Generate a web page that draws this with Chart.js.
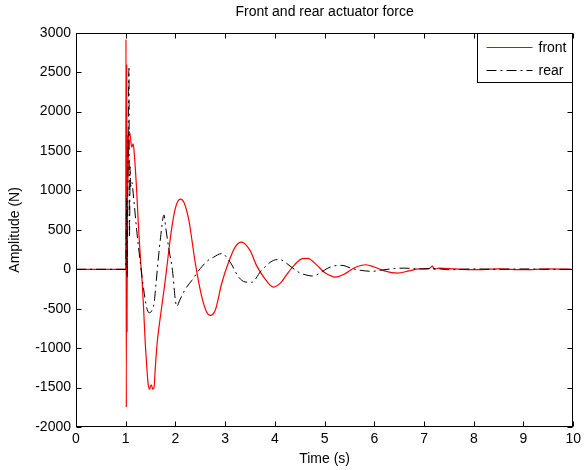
<!DOCTYPE html>
<html>
<head>
<meta charset="utf-8">
<script src="https://cdn.jsdelivr.net/npm/chart.js@4.4.1/dist/chart.umd.min.js"></script>
<style>
  html, body { margin: 0; padding: 0; background: #fff; }
</style>
</head>
<body>
<canvas id="forceChart" width="585" height="470"></canvas>
<script>
// values
const frontTime = [0, 1.0, 1.005, 1.012, 1.02, 1.028, 1.036, 1.045, 1.055, 1.065, 1.09, 1.12, 1.15, 1.18, 1.22, 1.26, 1.3, 1.33, 1.36, 1.39, 1.42, 1.45, 1.48, 1.5, 1.52, 1.54, 1.57, 1.59, 1.63, 1.67, 1.74, 1.8, 1.85, 1.92, 2.0, 2.1, 2.17, 2.27, 2.4, 2.53, 2.63, 2.7, 2.8, 2.93, 3.07, 3.2, 3.33, 3.5, 3.63, 3.8, 3.97, 4.13, 4.25, 4.4, 4.55, 4.66, 4.85, 5.0, 5.23, 5.4, 5.6, 5.83, 6.0, 6.2, 6.47, 6.7, 6.9, 7.1, 7.17, 7.2, 7.3, 7.6, 8.0, 8.5, 9.0, 9.5, 10];
const frontForce = [0, 0, 2920, -1750, 2600, -800, 1700, 1100, 1600, 1750, 1700, 1550, 1590, 1400, 1000, 500, 100, -150, -500, -900, -1200, -1450, -1520, -1480, -1470, -1520, -1500, -1300, -950, -730, -400, -115, 150, 500, 780, 890, 850, 620, 75, -350, -545, -585, -520, -180, 92, 282, 345, 240, 50, -120, -225, -162, -55, 60, 135, 140, 50, -40, -98, -60, 20, 58, 30, -20, -48, -20, 5, 10, 40, 0, 15, 5, -5, 5, -5, 5, 0];

const rearTime = [0, 1.0, 1.02, 1.03, 1.045, 1.065, 1.075, 1.09, 1.1, 1.12, 1.16, 1.22, 1.3, 1.36, 1.42, 1.47, 1.52, 1.57, 1.61, 1.64, 1.7, 1.77, 1.8, 1.87, 1.94, 2.0, 2.03, 2.08, 2.2, 2.33, 2.5, 2.65, 2.77, 2.93, 3.1, 3.27, 3.4, 3.53, 3.73, 3.97, 4.1, 4.2, 4.35, 4.5, 4.62, 4.75, 4.9, 5.05, 5.2, 5.35, 5.55, 5.75, 5.95, 6.15, 6.4, 6.6, 6.9, 7.2, 7.5, 8.0, 8.5, 9.0, 9.5, 10];
const rearForce = [0, 0, 900, -100, 1300, 2550, 400, 1300, 1050, 1110, 900, 500, 50, -250, -480, -550, -530, -430, -180, 30, 400, 690, 550, 250, -14, -400, -470, -400, -250, -140, 10, 110, 155, 200, 92, -98, -160, -165, -14, 113, 125, 92, 20, -45, -70, -85, -50, 10, 45, 50, 10, -15, -25, -10, 10, 15, 5, 10, -5, 5, 0, 5, 0, 0];

const xTicks = [0, 1, 2, 3, 4, 5, 6, 7, 8, 9, 10];
const yTicks = [-2000, -1500, -1000, -500, 0, 500, 1000, 1500, 2000, 2500, 3000];

const dashDot = [10, 4, 2, 4];
const fontFamily = '"Liberation Sans", Arial, sans-serif';

Chart.defaults.font.family = fontFamily;
Chart.defaults.font.size = 14;
Chart.defaults.color = "#000";

function toPoints(xs, ys) {
  return xs.map((t, i) => ({ x: t, y: ys[i] }));
}

// box round the axes with inward ticks on all four sides, like MATLAB
const matlabAxes = {
  id: "matlabAxes",
  afterDatasetsDraw(chart) {
    const { ctx, chartArea: a, scales } = chart;
    const l = Math.round(a.left) + 0.5, r = Math.round(a.right) - 0.5;
    const t = Math.round(a.top) + 0.5, b = Math.round(a.bottom) - 0.5;
    const len = 5;
    ctx.save();
    ctx.strokeStyle = "#000";
    ctx.lineWidth = 1;
    ctx.beginPath();
    scales.x.ticks.forEach(tk => {
      const px = Math.round(scales.x.getPixelForValue(tk.value)) + 0.5;
      ctx.moveTo(px, b); ctx.lineTo(px, b - len);
      ctx.moveTo(px, t); ctx.lineTo(px, t + len);
    });
    scales.y.ticks.forEach(tk => {
      const py = Math.round(scales.y.getPixelForValue(tk.value)) + 0.5;
      ctx.moveTo(l, py); ctx.lineTo(l + len, py);
      ctx.moveTo(r, py); ctx.lineTo(r - len, py);
    });
    ctx.stroke();
    ctx.strokeRect(l, t, r - l, b - t);
    ctx.restore();
  }
};

// legend box in the upper right corner of the axes
const boxLegend = {
  id: "boxLegend",
  afterDraw(chart) {
    const { ctx, chartArea: a } = chart;
    const w = 95, h = 49;
    const x0 = Math.round(a.right) - w - 0.5, y0 = Math.round(a.top) + 0.5;
    ctx.save();
    ctx.fillStyle = "#fff";
    ctx.fillRect(x0, y0, w, h);
    ctx.strokeStyle = "#000";
    ctx.lineWidth = 1;
    ctx.strokeRect(x0, y0, w, h);
    ctx.font = "14px " + fontFamily;
    ctx.textBaseline = "middle";
    chart.data.datasets.slice().sort((p, q) => p.legendIndex - q.legendIndex).forEach((ds, i) => {
      const ly = Math.round(y0 + 13 + i * 23.5) + 0.5;
      ctx.strokeStyle = ds.borderColor;
      ctx.lineWidth = ds.borderWidth;
      ctx.setLineDash(ds.borderDash || []);
      ctx.beginPath();
      ctx.moveTo(x0 + 9, ly);
      ctx.lineTo(x0 + 55, ly);
      ctx.stroke();
      ctx.setLineDash([]);
      ctx.fillStyle = "#000";
      ctx.fillText(ds.label, x0 + 61, ly + 1);
    });
    ctx.restore();
  }
};

new Chart(document.getElementById("forceChart"), {
  type: "line",
  data: {
    datasets: [
      {
        label: "rear",
        legendIndex: 1,
        data: toPoints(rearTime, rearForce),
        borderColor: "#000",
        borderWidth: 1,
        borderDash: dashDot,
        order: 0
      },
      {
        label: "front",
        legendIndex: 0,
        data: toPoints(frontTime, frontForce),
        borderColor: "#ff0000",
        borderWidth: 1.2,
        order: 1
      }
    ]
  },
  options: {
    responsive: false,
    animation: false,
    layout: { padding: { left: 0, right: 8, top: 0, bottom: 0 } },
    elements: {
      point: { radius: 0 },
      line: { tension: 0, cubicInterpolationMode: "monotone" }
    },
    plugins: {
      legend: { display: false },
      tooltip: { enabled: false },
      title: {
        display: true,
        text: "Front and rear actuator force",
        fullSize: false,
        font: { size: 14, weight: "normal" },
        padding: { top: 4, bottom: 12 }
      }
    },
    scales: {
      x: {
        type: "linear",
        min: 0,
        max: 10,
        afterBuildTicks: s => { s.ticks = xTicks.map(v => ({ value: v })); },
        afterFit: s => { s.height = 43; },
        grid: { display: false, drawTicks: false },
        border: { display: false },
        ticks: { padding: 4, maxRotation: 0, autoSkip: false, callback: v => String(v) },
        title: { display: true, text: "Time (s)", padding: { top: 3, bottom: 2 } }
      },
      y: {
        type: "linear",
        min: -2000,
        max: 3000,
        afterBuildTicks: s => { s.ticks = yTicks.map(v => ({ value: v })); },
        afterFit: s => { s.width = 76; },
        grid: { display: false, drawTicks: false },
        border: { display: false },
        ticks: { padding: 5, autoSkip: false, callback: v => String(v) },
        title: { display: true, text: "Amplitude (N)", padding: { top: 7, bottom: 0 } }
      }
    }
  },
  plugins: [matlabAxes, boxLegend]
});
</script>
</body>
</html>
